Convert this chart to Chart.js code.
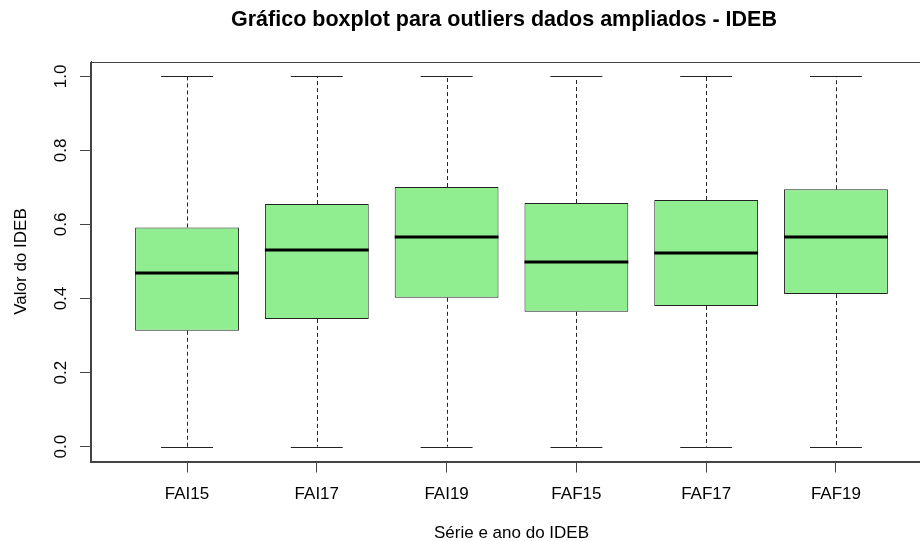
<!DOCTYPE html>
<html>
<head>
<meta charset="utf-8">
<script src="https://cdn.jsdelivr.net/npm/chart.js@4/dist/chart.umd.min.js"></script>
<style>
  html, body { margin: 0; padding: 0; background: #fff; overflow: hidden; }
  #wrap { width: 933px; height: 541px; }
</style>
</head>
<body>
<div id="wrap"><canvas id="chart" width="933" height="541"></canvas></div>
<script>
// boxplot summary per series
const categories = ['FAI15', 'FAI17', 'FAI19', 'FAF15', 'FAF17', 'FAF19'];
const minVals = [0, 0, 0, 0, 0, 0];
const q1Vals = [0.313, 0.345, 0.402, 0.364, 0.380, 0.412];
const medianVals = [0.469, 0.531, 0.566, 0.500, 0.523, 0.566];
const q3Vals = [0.592, 0.655, 0.701, 0.658, 0.666, 0.695];
const maxVals = [1, 1, 1, 1, 1, 1];
const yTicks = [0, 0.2, 0.4, 0.6, 0.8, 1.0];

const TITLE = 'Gráfico boxplot para outliers dados ampliados - IDEB';
const FONT = "'Liberation Sans', Arial, sans-serif";
const AXIS = '#444';

const crisp = (v) => Math.round(v) + 0.5;

// whiskers, caps, medians, frame, title and rotated y labels, like R's boxplot()
const boxplotExtras = {
  id: 'boxplotExtras',
  afterDatasetsDraw(chart) {
    const { ctx, chartArea: a, scales: { x, y } } = chart;
    ctx.save();

    categories.forEach((c, i) => {
      const pos = i + 1;
      const cx = crisp(x.getPixelForValue(pos));
      const capL = x.getPixelForValue(pos - 0.2);
      const capR = x.getPixelForValue(pos + 0.2);

      ctx.strokeStyle = '#222';
      ctx.lineWidth = 1;
      ctx.setLineDash([4, 3]);
      ctx.beginPath();
      ctx.moveTo(cx, y.getPixelForValue(q3Vals[i]));
      ctx.lineTo(cx, y.getPixelForValue(maxVals[i]));
      ctx.moveTo(cx, y.getPixelForValue(q1Vals[i]));
      ctx.lineTo(cx, y.getPixelForValue(minVals[i]));
      ctx.stroke();

      ctx.setLineDash([]);
      ctx.beginPath();
      [maxVals[i], minVals[i]].forEach((v) => {
        const py = crisp(y.getPixelForValue(v));
        ctx.moveTo(capL, py);
        ctx.lineTo(capR, py);
      });
      ctx.stroke();

      ctx.strokeStyle = '#000';
      ctx.lineWidth = 3;
      ctx.beginPath();
      const my = Math.round(y.getPixelForValue(medianVals[i]));
      ctx.moveTo(x.getPixelForValue(pos - 0.4), my);
      ctx.lineTo(x.getPixelForValue(pos + 0.4), my);
      ctx.stroke();
    });

    ctx.strokeStyle = AXIS;
    ctx.lineWidth = 1;
    ctx.strokeRect(crisp(a.left) - 1, crisp(a.top), a.right - a.left, Math.round(a.bottom - a.top));

    ctx.fillStyle = '#000';
    ctx.textAlign = 'center';
    ctx.textBaseline = 'middle';
    ctx.font = 'bold 21.5px ' + FONT;
    ctx.fillText(TITLE, 504, 20);

    ctx.font = '17px ' + FONT;
    yTicks.forEach((v) => {
      ctx.save();
      ctx.translate(61, y.getPixelForValue(v));
      ctx.rotate(-Math.PI / 2);
      ctx.fillText(v.toFixed(1), 0, 0);
      ctx.restore();
    });
    ctx.restore();
  }
};

new Chart(document.getElementById('chart'), {
  type: 'bar',
  data: {
    datasets: [{
      data: categories.map((c, i) => ({ x: i + 1, y: [q1Vals[i], q3Vals[i]] })),
      backgroundColor: '#90EE90',
      borderColor: '#222',
      borderWidth: 1,
      borderSkipped: false,
      categoryPercentage: 1,
      barPercentage: 0.8,
    }],
  },
  options: {
    responsive: false,
    animation: false,
    layout: { padding: { left: 0, right: 1, top: 61.5, bottom: 0 } },
    plugins: {
      legend: { display: false },
      tooltip: { enabled: false },
      title: { display: false },
    },
    scales: {
      x: {
        type: 'linear',
        min: 0.26,
        max: 6.74,
        offset: false,
        afterBuildTicks: (s) => { s.ticks = categories.map((c, i) => ({ value: i + 1 })); },
        afterFit: (s) => { s.height = 79.5; },
        ticks: {
          callback: (v) => categories[v - 1],
          color: '#000',
          font: { family: FONT, size: 17 },
          padding: 12,
          maxRotation: 0,
          autoSkip: false,
        },
        grid: { drawOnChartArea: false, offset: false, tickLength: 11, tickColor: AXIS },
        border: { display: true, color: AXIS },
        title: {
          display: true,
          text: 'Série e ano do IDEB',
          color: '#000',
          font: { family: FONT, size: 17, lineHeight: 0.9 },
          padding: { top: 0, bottom: 0 },
        },
      },
      y: {
        min: -0.04,
        max: 1.04,
        afterBuildTicks: (s) => { s.ticks = yTicks.map((v) => ({ value: v })); },
        afterFit: (s) => { s.width = 91; },
        ticks: { display: false },
        grid: { drawOnChartArea: false, tickLength: 11, tickColor: AXIS },
        border: { display: true, color: AXIS },
        title: {
          display: true,
          text: 'Valor do IDEB',
          color: '#000',
          font: { family: FONT, size: 17, lineHeight: 1.2 },
          padding: { top: 11, bottom: 0 },
        },
      },
    },
  },
  plugins: [boxplotExtras],
});
</script>
</body>
</html>
